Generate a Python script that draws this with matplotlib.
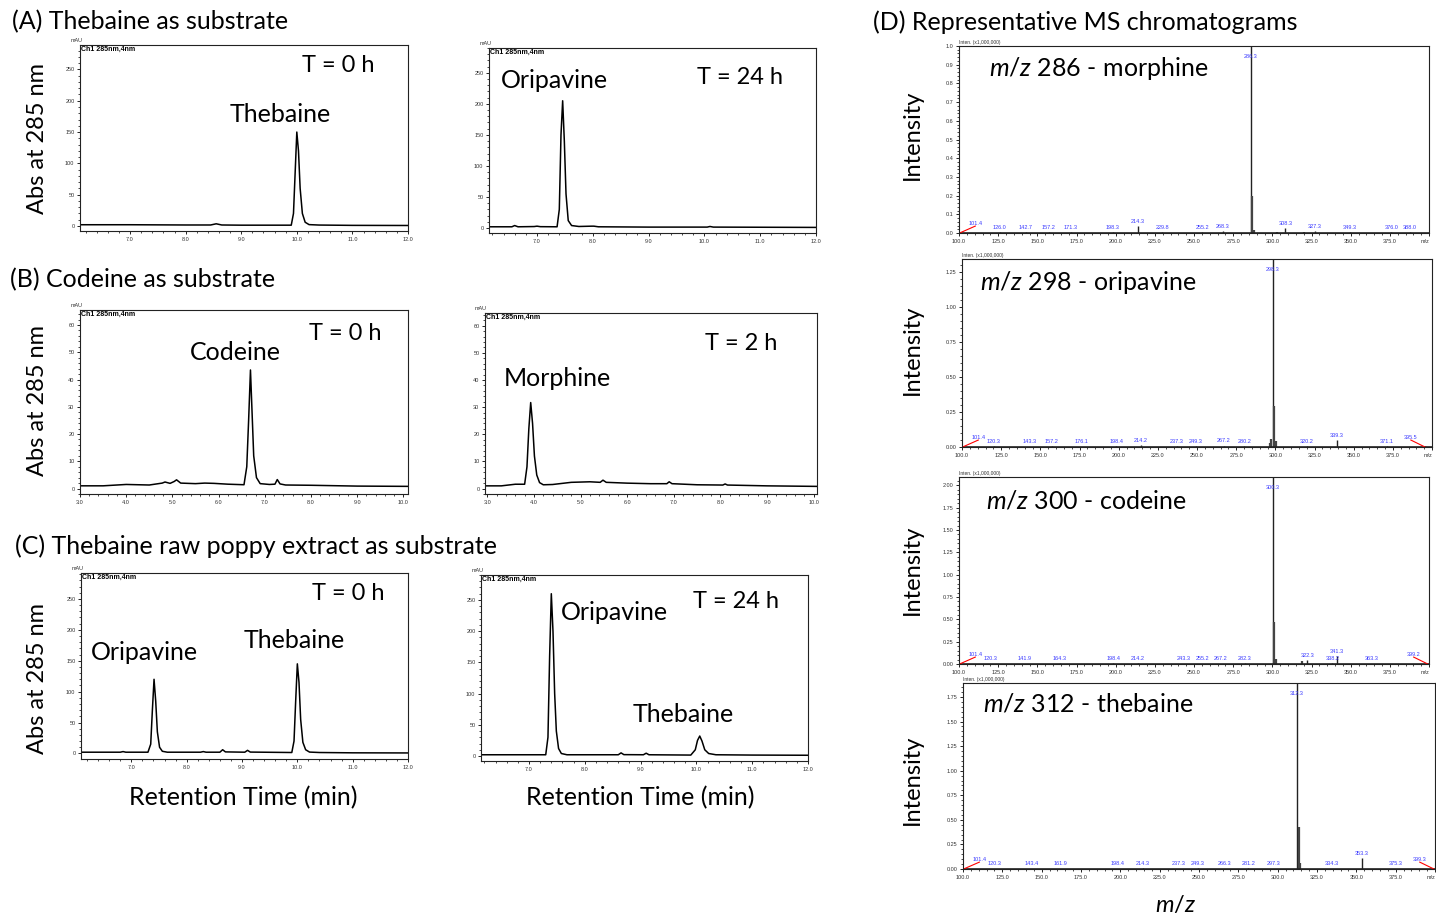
import numpy as np
import matplotlib.pyplot as plt
from matplotlib.ticker import MultipleLocator, FixedLocator, FixedFormatter

plt.rcParams['font.family'] = ['Lato', 'DejaVu Sans']
plt.rcParams['mathtext.fontset'] = 'custom'
plt.rcParams['mathtext.rm'] = 'Lato'
plt.rcParams['mathtext.it'] = 'Lato:italic'

# ---------------- HPLC traces (retention time in min, absorbance in mAU) ----------------
a0_time = [6.10, 7.00, 8.00, 8.45, 8.55, 8.65, 9.00, 9.90, 9.94, 9.97, 10.00, 10.03, 10.06, 10.10, 10.15, 10.22, 10.40, 11.00, 12.00]
a0_abs = [2.0, 2.0, 1.6, 1.6, 3.5, 1.6, 1.3, 1.3, 20, 85, 150, 120, 60, 20, 6, 2.2, 1.5, 1.0, 0.8]

a24_time = [6.15, 6.55, 6.60, 6.66, 6.95, 7.00, 7.06, 7.36, 7.40, 7.43, 7.46, 7.49, 7.52, 7.56, 7.62, 7.75,
            7.98, 8.02, 8.10, 9.00, 10.05, 10.10, 10.16, 12.00]
a24_abs = [2.0, 2.0, 4.0, 2.0, 2.4, 3.0, 2.2, 2.0, 30, 150, 205, 140, 55, 12, 4, 2.5,
           3.0, 3.0, 2.0, 1.5, 1.5, 2.5, 1.5, 1.0]

b0_time = [3.0, 3.5, 4.0, 4.5, 4.78, 4.84, 4.95, 5.04, 5.09, 5.18, 5.50, 5.70, 5.90, 6.20, 6.55, 6.61, 6.65, 6.69,
           6.72, 6.76, 6.82, 6.90, 7.10, 7.22, 7.27, 7.33, 7.45, 8.0, 9.0, 10.1]
b0_abs = [1.0, 1.0, 1.5, 1.3, 2.0, 2.4, 1.9, 2.6, 3.2, 2.0, 1.8, 2.0, 1.9, 1.6, 1.4, 8, 25, 43.5,
          30, 12, 4, 1.8, 1.5, 1.6, 3.3, 1.7, 1.3, 1.2, 0.9, 0.8]

b2_time = [2.95, 3.3, 3.6, 3.80, 3.85, 3.89, 3.93, 3.97, 4.01, 4.06, 4.12, 4.20, 4.40, 4.80, 5.20, 5.42, 5.48,
           5.55, 6.00, 6.50, 6.85, 6.90, 6.96, 7.50, 8.05, 8.10, 8.15, 9.00, 10.10]
b2_abs = [1.0, 1.0, 1.6, 1.6, 8, 22, 31.7, 24, 12, 5, 2.2, 1.4, 1.5, 2.3, 2.5, 2.3, 3.1,
          2.3, 2.0, 1.8, 1.8, 2.5, 1.8, 1.4, 1.3, 1.7, 1.3, 1.0, 0.8]

c0_time = [6.10, 6.80, 6.85, 6.90, 7.30, 7.35, 7.38, 7.41, 7.44, 7.47, 7.51, 7.56, 7.65, 8.25, 8.30, 8.35, 8.60,
           8.65, 8.70, 9.05, 9.10, 9.15, 9.90, 9.94, 9.97, 10.00, 10.03, 10.06, 10.10, 10.15, 10.22, 10.40, 11.00, 12.00]
c0_abs = [2.0, 2.0, 3.0, 2.0, 2.0, 15, 70, 120, 85, 35, 10, 3.5, 2.0, 2.0, 3.0, 2.0, 2.0,
          6.0, 2.5, 2.0, 5.0, 2.2, 1.5, 20, 85, 145, 115, 55, 18, 6, 2.2, 1.5, 1.0, 0.8]

c24_time = [6.15, 6.90, 7.30, 7.34, 7.37, 7.40, 7.43, 7.46, 7.49, 7.53, 7.58, 7.68, 8.30, 8.60, 8.65, 8.70, 9.05,
            9.10, 9.15, 9.90, 9.98, 10.02, 10.06, 10.10, 10.15, 10.22, 10.35, 11.00, 12.00]
c24_abs = [2.0, 2.0, 2.0, 30, 160, 260, 200, 100, 40, 12, 4, 2.0, 2.0, 2.0, 5.0, 2.2, 2.0,
           4.5, 2.0, 1.5, 10, 25, 32, 24, 10, 4, 2.0, 1.5, 1.2]

# ---------------- MS spectra (m/z, intensity x1,000,000) ----------------
ms1_mz = [101.4, 126.0, 142.7, 157.2, 171.3, 198.3, 214.3, 229.8, 255.2, 268.3, 286.3, 308.3, 327.3, 349.3, 376.0, 388.0]
ms1_int = [0.004, 0.005, 0.004, 0.006, 0.004, 0.006, 0.035, 0.004, 0.004, 0.010, 1.00, 0.025, 0.012, 0.005, 0.004, 0.006]
ms1_iso_mz = [287.3, 288.3, 303.2, 320.2]
ms1_iso_int = [0.20, 0.015, 0.006, 0.008]

ms2_mz = [101.4, 120.3, 143.3, 157.2, 176.1, 198.4, 214.2, 237.3, 249.3, 267.2, 280.2, 298.3, 320.2, 339.3, 371.1, 395.5]
ms2_int = [0.003, 0.004, 0.003, 0.004, 0.003, 0.004, 0.012, 0.006, 0.006, 0.010, 0.005, 1.345, 0.004, 0.050, 0.004, 0.004]
ms2_iso_mz = [296.3, 297.3, 299.3, 300.3]
ms2_iso_int = [0.03, 0.06, 0.29, 0.04]

ms3_mz = [101.4, 120.3, 141.9, 164.3, 198.4, 214.2, 243.3, 255.2, 267.2, 282.3, 300.3, 322.3, 338.2, 341.3, 363.3, 399.2]
ms3_int = [0.003, 0.004, 0.003, 0.006, 0.006, 0.012, 0.004, 0.004, 0.004, 0.012, 2.093, 0.040, 0.010, 0.090, 0.005, 0.003]
ms3_iso_mz = [301.3, 302.3, 319.2]
ms3_iso_int = [0.47, 0.06, 0.03]

ms4_mz = [101.4, 120.3, 143.4, 161.9, 198.4, 214.3, 237.3, 249.3, 266.3, 281.2, 297.3, 312.3, 334.3, 353.3, 375.3, 399.3]
ms4_int = [0.003, 0.004, 0.003, 0.003, 0.004, 0.010, 0.004, 0.006, 0.005, 0.012, 0.004, 1.892, 0.005, 0.110, 0.005, 0.004]
ms4_iso_mz = [313.3, 314.3]
ms4_iso_int = [0.43, 0.06]

W, H = 1436, 918
fig = plt.figure(figsize=(W / 100, H / 100), dpi=100)


def add_ax(x0, y0, x1, y1):
    # axes placed by pixel box (left, top, right, bottom)
    return fig.add_axes([x0 / W, 1 - y1 / H, (x1 - x0) / W, (y1 - y0) / H])


def ftext(x, y, s, **kw):
    kw.setdefault('ha', 'center')
    kw.setdefault('va', 'center')
    return fig.text(x / W, 1 - y / H, s, **kw)


def style_axes(ax):
    for sp in ax.spines.values():
        sp.set_linewidth(0.8)
        sp.set_color('#222222')
    ax.tick_params(which='major', direction='out', length=2.5, width=0.6, labelsize=4,
                   labelcolor='#333333', pad=1.5, labelfontfamily='Liberation Sans')
    ax.tick_params(which='minor', direction='out', length=1.5, width=0.5)


def hplc(box, t, a, xlim, ylim, ystep, yminor, xmajor):
    ax = add_ax(*box)
    ax.plot(t, a, color='black', lw=1.1, solid_joinstyle='round')
    ax.set_xlim(*xlim)
    ax.set_ylim(*ylim)
    ax.yaxis.set_major_locator(MultipleLocator(ystep))
    ax.yaxis.set_minor_locator(MultipleLocator(yminor))
    ax.xaxis.set_major_locator(FixedLocator(xmajor))
    ax.xaxis.set_major_formatter(FixedFormatter([f'{v:.1f}' for v in xmajor]))
    ax.xaxis.set_minor_locator(MultipleLocator(0.2))
    style_axes(ax)
    ax.text(-0.03, 1.01, 'mAU', transform=ax.transAxes, fontsize=4, family='Liberation Sans',
            ha='left', va='bottom', color='#333333')
    ax.text(0.003, 0.995, 'Ch1 285nm,4nm', transform=ax.transAxes, fontsize=5, fontweight='bold',
            family='Liberation Sans', ha='left', va='top')
    return ax


def ms(box, mz, inten, iso_mz, iso_int, ytop, ystep):
    ax = add_ax(*box)
    ax.vlines(mz, 0, inten, color='#222222', lw=1.0)
    ax.vlines(iso_mz, 0, iso_int, color='#444444', lw=1.6)
    ax.set_xlim(100, 400)
    ax.set_ylim(0, ytop)
    ax.axhline(0, color='#222222', lw=1.2)
    ax.yaxis.set_major_locator(MultipleLocator(ystep))
    ax.yaxis.set_minor_locator(MultipleLocator(ystep / 5))
    ax.yaxis.set_major_formatter(plt.FuncFormatter(
        lambda v, p: f'{v:.1f}' if ystep == 0.1 else f'{v:.2f}'))
    xt = np.arange(100, 401, 25)
    ax.xaxis.set_major_locator(FixedLocator(xt))
    ax.xaxis.set_major_formatter(FixedFormatter([f'{v:.1f}' for v in xt[:-1]] + ['m/z']))
    ax.xaxis.set_minor_locator(MultipleLocator(5))
    style_axes(ax)
    # unit label for the axis end sits flush with the right frame
    fig.canvas.draw_idle()
    ax.get_xticklabels()[-1].set_ha('right')
    ax.text(0.0, 1.005, 'Inten. (x1,000,000)', transform=ax.transAxes, fontsize=3.5,
            family='Liberation Sans', ha='left', va='bottom', color='#333333')
    # peak labels; near-edge peaks get their label pulled inward with a red leader
    pad = ytop * 0.012
    for m, h in zip(mz, inten):
        ly = min(h + pad, ytop * 0.93)
        lx = m
        if m < 108:
            lx = m + 9
            ly = ytop * 0.025 + pad
            ax.plot([m - 1, lx], [0, ly], color='red', lw=0.8)
        elif m > 393:
            lx = m - 9
            ly = ytop * 0.025 + pad
            ax.plot([lx, m], [ly, 0], color='red', lw=0.8)
        ax.text(lx, ly, f'{m:.1f}', fontsize=4, color='#3a3aff', family='Liberation Sans',
                ha='center', va='bottom')
    return ax


# ---------------- HPLC panels ----------------
x_ac = [7.0, 8.0, 9.0, 10.0, 11.0, 12.0]
x_b = [3.0, 4.0, 5.0, 6.0, 7.0, 8.0, 9.0, 10.0]
hplc((80, 45, 408, 231), a0_time, a0_abs, (6.1, 12.0), (-8, 289), 50, 10, x_ac)
hplc((489, 48, 816, 233), a24_time, a24_abs, (6.14, 12.0), (-8, 290), 50, 10, x_ac)
hplc((80, 310, 408, 494), b0_time, b0_abs, (3.0, 10.1), (-2, 65.5), 10, 2, x_b)
hplc((485, 313, 817, 494), b2_time, b2_abs, (2.95, 10.07), (-2, 64.7), 10, 2, x_b)
hplc((81, 573, 408, 759), c0_time, c0_abs, (6.09, 12.0), (-9, 292), 50, 10, x_ac)
hplc((481, 575, 808, 761), c24_time, c24_abs, (6.14, 12.0), (-8, 290), 50, 10, x_ac)

# ---------------- MS panels ----------------
ms((959, 46, 1429, 233), ms1_mz, ms1_int, ms1_iso_mz, ms1_iso_int, 1.0, 0.1)
ms((962, 259, 1432, 447), ms2_mz, ms2_int, ms2_iso_mz, ms2_iso_int, 1.345, 0.25)
ms((959, 477, 1429, 664), ms3_mz, ms3_int, ms3_iso_mz, ms3_iso_int, 2.093, 0.25)
ms((963, 683, 1435, 869), ms4_mz, ms4_int, ms4_iso_mz, ms4_iso_int, 1.892, 0.25)

# ---------------- annotations ----------------
big = 17
head = 18
ftext(12, 22, '(A) Thebaine as substrate', fontsize=head, ha='left')
ftext(10, 280, '(B) Codeine as substrate', fontsize=head, ha='left')
ftext(15, 546, '(C) Thebaine raw poppy extract as substrate', fontsize=head, ha='left')
ftext(873, 22, '(D) Representative MS chromatograms', fontsize=head, ha='left')

for yc in (138, 400, 678):
    ftext(38, yc, 'Abs at 285 nm', fontsize=big, rotation=90)
for xc in (243, 640):
    ftext(xc, 798, 'Retention Time (min)', fontsize=head)

ftext(338, 65, 'T = 0 h', fontsize=big)
ftext(280, 115, 'Thebaine', fontsize=head)
ftext(554, 80, 'Oripavine', fontsize=head)
ftext(740, 78, 'T = 24 h', fontsize=big)
ftext(235, 353, 'Codeine', fontsize=head)
ftext(345, 333, 'T = 0 h', fontsize=big)
ftext(557, 379, 'Morphine', fontsize=head)
ftext(741, 344, 'T = 2 h', fontsize=big)
ftext(144, 652, 'Oripavine', fontsize=head)
ftext(294, 640, 'Thebaine', fontsize=head)
ftext(348, 593, 'T = 0 h', fontsize=big)
ftext(614, 613, 'Oripavine', fontsize=head)
ftext(683, 714, 'Thebaine', fontsize=head)
ftext(736, 602, 'T = 24 h', fontsize=big)

for yc in (135, 350, 570, 780):
    ftext(912, yc, 'Intensity', fontsize=big, rotation=90)
ftext(989, 69, r'$\mathit{m/z}$ 286 - morphine', fontsize=18, ha='left')
ftext(980, 283, r'$\mathit{m/z}$ 298 - oripavine', fontsize=18, ha='left')
ftext(986, 501, r'$\mathit{m/z}$ 300 - codeine', fontsize=18, ha='left')
ftext(983, 704, r'$\mathit{m/z}$ 312 - thebaine', fontsize=18, ha='left')
ftext(1176, 905, r'$\mathit{m/z}$', fontsize=big)

fig.savefig('out.png', dpi=100)
